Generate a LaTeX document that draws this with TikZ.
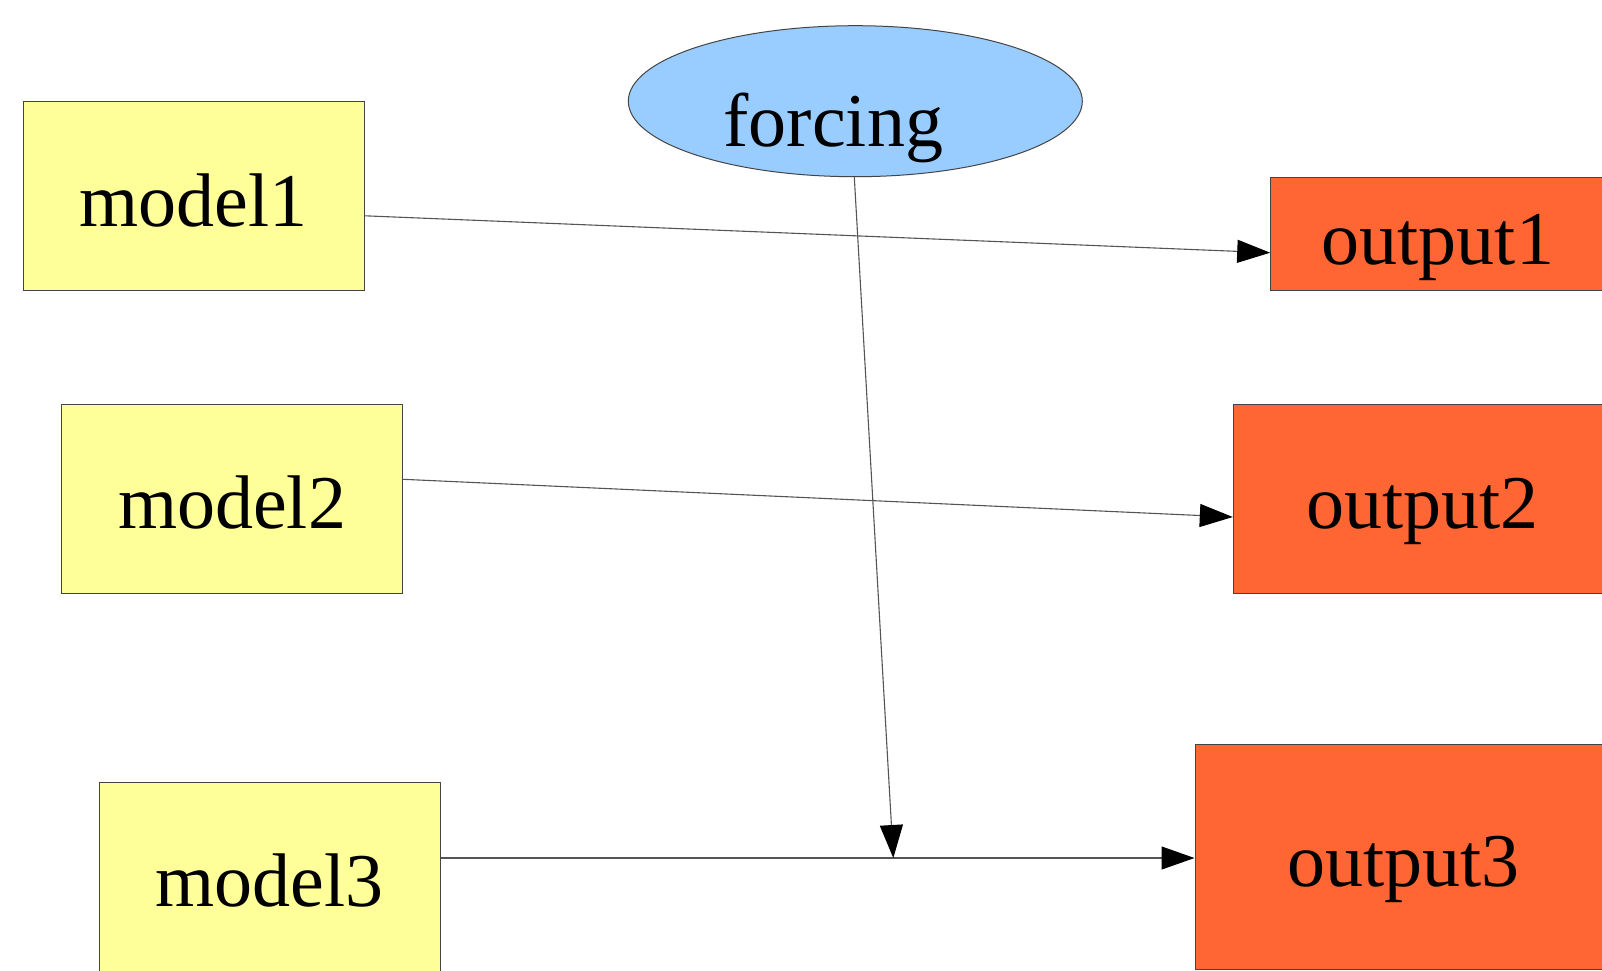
\documentclass[tikz,border=0pt]{standalone}
\usepackage{fontspec}
\setmainfont{Liberation Serif}
\usetikzlibrary{arrows.meta,shapes.geometric}
\definecolor{modelfill}{HTML}{FFFF99}
\definecolor{outfill}{HTML}{FF6633}
\definecolor{forcefill}{HTML}{99CCFF}
\definecolor{edgegray}{HTML}{555555}
\definecolor{bordergray}{HTML}{444444}
\tikzset{
  bigtext/.style={font=\fontsize{76}{82}\selectfont},
  box/.style={draw=bordergray, line width=1pt, rectangle, inner sep=0pt, bigtext,
              text height=60pt, text depth=0pt},
  modelbox/.style={box, fill=modelfill, minimum width=341pt, minimum height=189pt},
  outbox/.style={box, fill=outfill},
  conn/.style={draw=edgegray, line width=1.1pt, -{Triangle[length=33pt,width=23pt,color=black]}},
}
\begin{document}
\begin{tikzpicture}[x=1pt,y=-1pt]
\useasboundingbox (0,0) rectangle (1602,970);
\clip (0,0) rectangle (1602,970);
\fill[white] (0,0) rectangle (1602,970);

\node[modelbox] (model1) at (193.8,196.4) {model1};
\node[modelbox] (model2) at (232,498.7) {model2};
\node[modelbox] (model3) at (269.7,876.7) {model3};

\node[outbox, minimum width=334.4pt, minimum height=113pt] (output1) at (1437.9,234.2) {output1};
\node[outbox, minimum width=377.8pt, minimum height=189pt] (output2) at (1422.2,498.8) {output2};
\node[outbox, minimum width=416.6pt, minimum height=224.8pt] (output3) at (1403.3,856.7) {output3};

\node[ellipse, draw=bordergray, line width=1pt, fill=forcefill, inner sep=0pt,
      minimum width=454pt, minimum height=151pt] (forcing) at (855.3,101.2) {};
\node[bigtext, inner sep=0pt, anchor=base] (forcinglabel) at (833.3,146.7) {forcing};

\draw[conn] ([yshift=-19.4pt]model1.east) -- ([yshift=-18.5pt]output1.west);
\draw[conn] ([yshift=19.4pt]model2.east) -- ([yshift=-18.2pt]output2.west);
\draw[conn] ([yshift=18.7pt]model3.east) -- ([yshift=-1.3pt]output3.west);
\coordinate (join) at (893.3,858);
\draw[conn] ([xshift=-1pt]forcing.south) -- (join);
\end{tikzpicture}
\end{document}
